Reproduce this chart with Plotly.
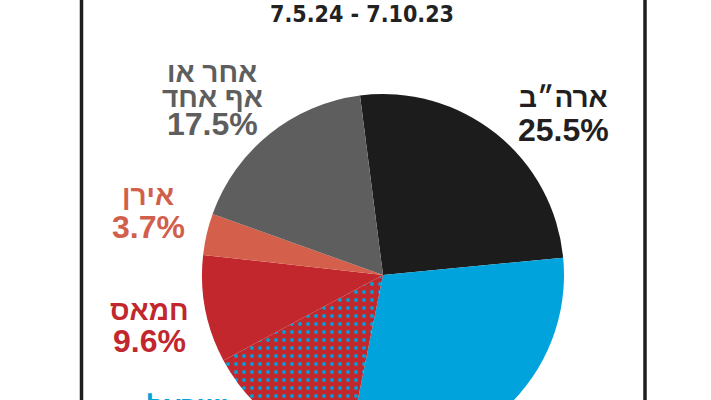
import plotly.graph_objects as go

# ---- data ----
slice_names = ["ארה״ב", "ישראל", "ישראל (מנוקד)", "חמאס", "אירן", "אחר או אף אחד"]
slice_values = [25.5, 29.7, 14.0, 9.6, 3.7, 17.5]
slice_colors = ["#1c1c1c", "#00a3dc", "#c1272d", "#c1272d", "#d4604b", "#5e5e5e"]
slice_patterns = ["", "", ".", "", "", ""]

label_lines = [["ארה״ב"], ["ישראל"], ["חמאס"], ["אירן"], ["אחר או", "אף אחד"]]
label_pcts = ["25.5%", "43.7%", "9.6%", "3.7%", "17.5%"]
label_colors = ["#231f20", "#00a3da", "#c1272d", "#d0604c", "#5e5e5e"]

title_text = "7.5.24 - 7.10.23"

# ---- layout constants ----
W, H = 711, 460
cx, cy, r = 383, 275, 181

def py(y):
    return 1 - y / H

fig = go.Figure()
fig.add_trace(go.Pie(
    labels=slice_names,
    values=slice_values,
    sort=False,
    direction="clockwise",
    rotation=-7.3,
    textinfo="none",
    hoverinfo="label+value",
    showlegend=False,
    marker=dict(
        colors=slice_colors,
        line=dict(width=0),
        pattern=dict(shape=slice_patterns, fgcolor="#00a3dc", bgcolor="#c1272d",
                     size=8, solidity=0.18, fillmode="replace"),
    ),
    domain=dict(x=[(cx - r) / W, (cx + r) / W],
                y=[(H - cy - r) / H, (H - cy + r) / H]),
))

# label placements (x center, y centers of lines in pixels)
pos = [
    (563, [97], 130),
    (188, [406], 438),
    (149, [310], 341),
    (148, [195], 227),
    (212, [72, 97], 124),
]
annots = []
hfont = "Liberation Sans, Arial, DejaVu Sans, sans-serif"
for (x, ys, yp), lines, pct, col in zip(pos, label_lines, label_pcts, label_colors):
    for ln, yl in zip(lines, ys):
        annots.append(dict(x=x / W, y=py(yl), xref="paper", yref="paper",
                           text=f"<b>{ln}</b>", showarrow=False,
                           xanchor="center", yanchor="middle",
                           font=dict(family=hfont, size=28, color=col)))
    annots.append(dict(x=x / W, y=py(yp), xref="paper", yref="paper",
                       text=f"<b>{pct}</b>", showarrow=False,
                       xanchor="center", yanchor="middle",
                       font=dict(family=hfont, size=32, color=col)))

annots.append(dict(x=362 / W, y=py(14), xref="paper", yref="paper",
                   text=f"<b>{title_text}</b>", showarrow=False,
                   xanchor="center", yanchor="middle",
                   font=dict(family="Liberation Sans Narrow, DejaVu Sans Condensed, sans-serif",
                             size=23, color="#222222")))

shapes = [
    dict(type="line", xref="paper", yref="paper", x0=81.5 / W, x1=81.5 / W, y0=0, y1=1,
         line=dict(color="#1e1e1e", width=3.5)),
    dict(type="line", xref="paper", yref="paper", x0=645 / W, x1=645 / W, y0=0, y1=1,
         line=dict(color="#1e1e1e", width=3.5)),
]

fig.update_layout(
    width=W, height=H,
    margin=dict(l=0, r=0, t=0, b=0),
    paper_bgcolor="white", plot_bgcolor="white",
    annotations=annots, shapes=shapes,
)

fig.write_html("out.html",
               config={"displayModeBar": False},
               post_script="document.body.style.margin='0';document.body.style.overflow='hidden';")
